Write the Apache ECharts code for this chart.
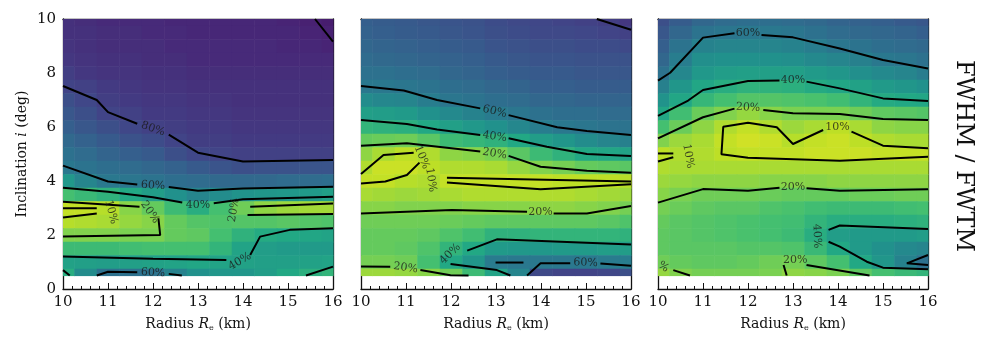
<!DOCTYPE html>
<html>
<head>
<meta charset="utf-8">
<script src="https://cdn.jsdelivr.net/npm/echarts@6/dist/echarts.min.js"></script>
<style>
  html, body { margin: 0; background: #fff; }
  #chart { width: 982px; height: 349px; }
</style>
</head>
<body>
<div id="chart"></div>
<script>
// grid of the colour field (km, deg)
const radius = [10, 10.5, 11, 11.5, 12, 12.5, 13, 13.5, 14, 14.5, 15, 15.5, 16]
const incl = [10, 9.5, 9, 8.5, 8, 7.5, 7, 6.5, 6, 5.5, 5, 4.5, 4, 3.5, 3, 2.5, 2, 1.5, 1, 0.5]

// error in percent, one row per inclination (top to bottom)
const fieldA = [
  [86, 87, 88, 88, 88, 89, 89, 89, 89, 89, 90, 91, 92],
  [86, 86, 87, 87, 88, 88, 89, 89, 89, 89, 89, 90, 91],
  [85, 86, 87, 87, 87, 88, 88, 88, 88, 88, 89, 89, 90],
  [84, 85, 86, 86, 87, 87, 88, 88, 88, 88, 88, 88, 88],
  [82, 84, 85, 85, 86, 86, 87, 87, 87, 87, 87, 87, 87],
  [80, 81, 83, 84, 85, 85, 86, 86, 86, 86, 86, 86, 86],
  [76, 79, 82, 83, 84, 84, 85, 85, 86, 86, 86, 86, 86],
  [73, 76, 80, 81, 83, 83, 84, 84, 85, 85, 85, 85, 85],
  [70, 73, 76, 79, 81, 82, 83, 83, 84, 84, 84, 84, 84],
  [66, 69, 72, 75, 77, 80, 82, 82, 83, 83, 83, 83, 83],
  [63, 65, 68, 70, 72, 76, 79, 80, 81, 81, 81, 81, 81],
  [60, 62, 64, 65, 67, 69, 72, 74, 76, 75, 75, 74, 74],
  [47, 55, 60, 61, 62, 64, 65, 66, 66, 66, 65, 65, 64],
  [30, 33, 36, 40, 45, 50, 55, 52, 49, 48, 47, 46, 44],
  [9, 9, 11, 18, 24, 32, 38, 30, 22, 17, 15, 14, 14],
  [11, 12, 13, 16, 18, 24, 27, 28, 27, 27, 26, 27, 28],
  [19, 19, 19, 20, 20, 24, 25, 30, 36, 39, 40, 41, 42],
  [32, 32, 32, 31, 30, 30, 30, 35, 42, 45, 46, 46, 46],
  [43, 44, 45, 44, 43, 42, 41, 42, 43, 44, 44, 43, 42],
  [38, 52, 63, 63, 62, 56, 50, 48, 48, 45, 40, 37, 35]
]
const fieldB = [
  [70, 71, 72, 73, 74, 75, 77, 78, 79, 80, 81, 82, 84],
  [69, 70, 71, 72, 73, 74, 76, 77, 78, 78, 79, 80, 81],
  [67, 68, 69, 70, 71, 72, 74, 75, 76, 76, 77, 77, 78],
  [65, 66, 67, 68, 69, 70, 72, 73, 74, 74, 75, 75, 75],
  [63, 63, 64, 65, 67, 68, 70, 71, 72, 72, 73, 73, 73],
  [60, 60, 61, 62, 64, 65, 67, 68, 70, 70, 71, 71, 71],
  [52, 54, 55, 58, 61, 62, 64, 65, 67, 67, 68, 68, 68],
  [44, 45, 46, 50, 53, 56, 59, 61, 63, 64, 64, 65, 65],
  [35, 36, 37, 40, 44, 47, 50, 54, 58, 60, 61, 62, 62],
  [24, 23, 22, 26, 32, 34, 36, 40, 45, 48, 52, 55, 57],
  [17, 13, 10, 12, 17, 18, 20, 26, 32, 36, 40, 41, 42],
  [12, 8, 8, 10, 12, 12, 13, 16, 19, 21, 24, 25, 26],
  [9, 9, 11, 12, 9, 9, 9, 9, 9, 10, 10, 10, 11],
  [13, 14, 15, 14, 13, 12, 12, 12, 12, 12, 13, 14, 15],
  [18, 18, 19, 19, 19, 18, 18, 18, 17, 17, 18, 19, 21],
  [22, 22, 22, 22, 23, 24, 25, 25, 25, 25, 25, 26, 28],
  [24, 24, 24, 25, 28, 31, 36, 36, 35, 35, 35, 35, 36],
  [24, 24, 25, 28, 35, 40, 46, 47, 47, 46, 46, 45, 45],
  [21, 21, 22, 30, 40, 48, 59, 60, 60, 60, 60, 59, 58],
  [15, 15, 16, 18, 22, 32, 42, 55, 78, 80, 80, 79, 76]
]
const fieldC = [
  [76, 71, 67, 65, 64, 64, 65, 66, 68, 69, 70, 72, 73],
  [73, 67, 62, 61, 60, 60, 61, 63, 65, 66, 67, 68, 70],
  [70, 62, 56, 55, 55, 55, 56, 58, 61, 62, 64, 65, 66],
  [67, 58, 51, 50, 50, 50, 51, 53, 55, 57, 60, 61, 63],
  [63, 54, 47, 45, 44, 44, 44, 46, 48, 51, 53, 55, 58],
  [57, 48, 41, 38, 36, 36, 37, 39, 41, 43, 46, 48, 50],
  [49, 41, 34, 30, 27, 27, 28, 29, 31, 35, 39, 40, 41],
  [41, 31, 23, 19, 16, 18, 20, 20, 20, 22, 25, 26, 27],
  [30, 23, 17, 12, 9, 12, 15, 13, 10, 13, 17, 18, 18],
  [19, 15, 13, 9, 7, 8, 11, 9, 8, 10, 12, 13, 13],
  [10, 12, 12, 10, 9, 9, 9, 8, 8, 8, 9, 9, 9],
  [12, 13, 13, 13, 13, 13, 13, 13, 13, 13, 13, 13, 13],
  [15, 16, 17, 17, 17, 18, 18, 18, 17, 17, 17, 17, 17],
  [18, 20, 22, 22, 22, 23, 24, 24, 24, 23, 23, 22, 22],
  [21, 23, 25, 26, 26, 28, 29, 31, 32, 32, 32, 31, 30],
  [24, 26, 27, 28, 29, 30, 31, 35, 38, 38, 38, 37, 36],
  [25, 26, 27, 28, 29, 30, 32, 38, 45, 46, 46, 46, 45],
  [25, 26, 26, 26, 27, 27, 28, 33, 40, 46, 50, 53, 55],
  [22, 24, 25, 25, 24, 22, 21, 25, 30, 40, 48, 56, 63],
  [16, 19, 21, 21, 21, 20, 17, 18, 20, 25, 30, 33, 35]
]

// contour polylines [radius, inclination], one array per drawn piece
const contoursA = [
  [[10, 7.52], [10.75, 7.0], [11, 6.55], [11.65, 6.12]],
  [[12.35, 5.72], [13, 5.05], [14, 4.72], [16, 4.78]],
  [[15.6, 10], [16, 9.16]],
  [[10, 4.57], [11, 3.98], [11.65, 3.87]],
  [[12.35, 3.78], [13, 3.64], [14, 3.72], [16, 3.79]],
  [[10, 3.75], [11, 3.6], [12, 3.4], [12.65, 3.2]],
  [[13.35, 3.18], [14, 3.32], [16, 3.42]],
  [[10, 2.99], [10.75, 2.99]],
  [[10, 2.65], [10.75, 2.8]],
  [[10, 3.23], [11.7, 3.05]],
  [[12.12, 2.62], [12.16, 2.0], [10, 1.94]],
  [[14.16, 3.05], [16, 3.17]],
  [[14.1, 2.74], [16, 2.78]],
  [[10, 1.2], [12, 1.12], [13.63, 1.07]],
  [[14.16, 1.26], [14.38, 1.94], [15.04, 2.19], [16, 2.25]],
  [[10.75, 0.5], [11, 0.64], [11.65, 0.62]],
  [[12.35, 0.56], [12.64, 0.5]],
  [[10, 0.7], [10.15, 0.5]],
  [[15.4, 0.5], [16, 0.83]]
]
const contoursB = [
  [[15.24, 10], [16, 9.6]],
  [[10, 7.52], [10.95, 7.35], [11.69, 7.0], [12.65, 6.69]],
  [[13.28, 6.44], [14.36, 5.99], [15.02, 5.85], [16, 5.7]],
  [[10, 6.26], [11.02, 6.11], [11.69, 5.91], [12.65, 5.7]],
  [[13.28, 5.58], [14.13, 5.27], [15.02, 5.0], [16, 4.93]],
  [[10, 5.31], [11.02, 5.4], [12.65, 5.09]],
  [[13.28, 4.93], [13.99, 4.53], [15.02, 4.38], [16, 4.31]],
  [[10, 4.26], [10.5, 4.96], [11.17, 5.05]],
  [[11.3, 4.68], [11.02, 4.22], [10.54, 3.98], [10, 3.91]],
  [[11.91, 4.12], [16, 3.98]],
  [[11.91, 3.94], [13.99, 3.69], [16, 3.88]],
  [[10, 2.8], [12.02, 2.93], [13.69, 2.86]],
  [[14.28, 2.8], [15.02, 2.8], [16, 3.07]],
  [[12.36, 1.42], [13.02, 1.84], [16, 1.65]],
  [[11.99, 0.93], [13.02, 0.7], [13.32, 0.5]],
  [[12.99, 0.98], [13.61, 0.98]],
  [[13.69, 0.5], [13.99, 0.95], [14.65, 0.95]],
  [[15.32, 0.94], [16, 0.86]],
  [[10, 0.83], [10.65, 0.82]],
  [[11.32, 0.7], [11.99, 0.51], [12.39, 0.5]]
]
const contoursC = [
  [[10, 7.72], [10.27, 8.01], [11, 9.31], [11.7, 9.47]],
  [[12.3, 9.41], [13, 9.32], [14.04, 8.91], [15, 8.48], [16, 8.17]],
  [[10, 6.41], [10.67, 6.98], [11, 7.37], [12, 7.7], [12.7, 7.72]],
  [[13.3, 7.68], [14.04, 7.43], [15, 7.06], [16, 6.96]],
  [[10, 5.58], [11, 6.36], [11.7, 6.68]],
  [[12.34, 6.63], [13, 6.51], [14.04, 6.48], [15, 6.3], [16, 6.26]],
  [[13.67, 5.89], [13.0, 5.37], [12.64, 5.99], [12.0, 6.16], [11.45, 6.01], [11.41, 4.99], [12, 4.86], [14.04, 4.75], [16, 4.9]],
  [[14.3, 5.83], [15, 5.31], [16, 5.21]],
  [[10, 5.02], [10.34, 5.02]],
  [[10, 4.72], [10.34, 4.88]],
  [[10, 3.2], [11, 3.7], [12, 3.64], [12.7, 3.75]],
  [[13.3, 3.73], [14.04, 3.64], [16, 3.69]],
  [[13.79, 2.19], [14.04, 2.35], [16, 2.22]],
  [[13.79, 1.75], [14.04, 1.57], [14.64, 1.01], [15, 0.79], [16, 0.73]],
  [[16, 1.26], [15.53, 0.95], [16, 0.89]],
  [[12.86, 0.5], [12.79, 0.89]],
  [[13.3, 0.89], [14.7, 0.5]],
  [[10.34, 0.7], [10.71, 0.5]]
]

// contour labels: radius, inclination, text, angle
const labelsA = [
  [12.0, 5.93, '80%', -19], [12.0, 3.83, '60%', -3], [13.0, 3.12, '40%', 0],
  [11.07, 2.85, '10%', -75], [11.93, 2.85, '20%', -55], [13.8, 2.93, '20%', 80],
  [13.93, 1.02, '40%', 30], [12.0, 0.6, '60%', -3]
]
const labelsB = [
  [12.97, 6.57, '60%', -14], [12.97, 5.64, '40%', -8], [12.97, 5.01, '20%', -10],
  [11.35, 4.88, '10%', -68], [11.55, 4.04, '10%', -82], [13.99, 2.84, '20%', 0],
  [11.98, 1.3, '40%', 45], [14.99, 0.97, '60%', -2], [10.99, 0.78, '20%', -8]
]
const labelsC = [
  [12.0, 9.47, '60%', 0], [13.0, 7.74, '40%', 0], [12.0, 6.72, '20%', -3],
  [13.99, 5.98, '10%', 0], [10.67, 4.92, '10%', -80], [13.0, 3.79, '20%', 0],
  [13.53, 1.96, '40%', -88], [13.05, 1.06, '20%', 0], [10.12, 0.82, '%', -35]
]

const viridisR = ['#fde725', '#bddf26', '#7ad151', '#44bf70', '#22a884', '#21918c',
  '#2a788e', '#355f8d', '#414487', '#482475', '#440154']

const panels = [
  { field: fieldA, contours: contoursA, labels: labelsA },
  { field: fieldB, contours: contoursB, labels: labelsB },
  { field: fieldC, contours: contoursC, labels: labelsC }
]
const gridLefts = [63, 361, 658]
const serif = 'DejaVu Serif'

const halfX = (radius[1] - radius[0]) / 2
const halfY = (incl[0] - incl[1]) / 2
const xMin = radius[0], xMax = radius[radius.length - 1]
const yMin = incl[incl.length - 1], yMax = incl[0]

function cellData(field) {
  const out = []
  field.forEach((row, r) => {
    row.forEach((v, c) => out.push([radius[c], incl[r], v]))
  })
  return out
}

function renderCell(params, api) {
  const x = api.value(0)
  const y = api.value(1)
  const p0 = api.coord([Math.max(x - halfX, xMin), Math.min(y + halfY, yMax)])
  const p1 = api.coord([Math.min(x + halfX, xMax), Math.max(y - halfY, yMin)])
  return {
    type: 'rect',
    shape: { x: p0[0], y: p0[1], width: p1[0] - p0[0] + 0.6, height: p1[1] - p0[1] + 0.6 },
    style: { fill: api.visual('color') }
  }
}

function xAxisFor(gi, pos) {
  const bottom = pos === 'bottom'
  return {
    type: 'value', gridIndex: gi, position: pos, min: 10, max: 16, interval: 1,
    name: bottom ? '{t|Radius }{i|R}{s|e}{t| (km)}' : '',
    nameLocation: 'middle', nameGap: 27,
    nameTextStyle: {
      rich: {
        t: { fontFamily: serif, fontSize: 14, color: '#111' },
        i: { fontFamily: serif, fontSize: 14, fontStyle: 'italic', color: '#111' },
        s: { fontFamily: serif, fontSize: 8, color: '#111', padding: [8, 0, 0, 0] }
      }
    },
    axisLine: { onZero: false, lineStyle: { color: '#111', width: 1.3 } },
    axisTick: { inside: true, length: 6, lineStyle: { color: '#111', width: 1 } },
    minorTick: { show: true, splitNumber: 5, length: 3, lineStyle: { color: '#111', width: 1 } },
    axisLabel: { show: bottom, color: '#111', fontFamily: serif, fontSize: 15, margin: 6 },
    splitLine: { show: false }
  }
}

function yAxisFor(gi, pos, withLabels) {
  return {
    type: 'value', gridIndex: gi, position: pos, min: 0, max: 10, interval: 2,
    name: withLabels ? '{t|Inclination }{i|i}{t| (deg)}' : '',
    nameLocation: 'middle', nameGap: 34, nameRotate: 90,
    nameTextStyle: {
      rich: {
        t: { fontFamily: serif, fontSize: 14, color: '#111' },
        i: { fontFamily: serif, fontSize: 14, fontStyle: 'italic', color: '#111' }
      }
    },
    axisLine: { onZero: false, lineStyle: { color: '#111', width: 1.3 } },
    axisTick: { inside: true, length: 6, lineStyle: { color: '#111', width: 1 } },
    minorTick: { show: true, splitNumber: 4, length: 3, lineStyle: { color: '#111', width: 1 } },
    axisLabel: { show: withLabels, color: '#111', fontFamily: serif, fontSize: 15, margin: 7 },
    splitLine: { show: false }
  }
}

const grids = []
const xAxes = []
const yAxes = []
const cellSeries = []
const lineSeries = []
const labelSeries = []

panels.forEach((p, i) => {
  grids.push({ left: gridLefts[i], top: 19, width: 270, height: 270 })
  xAxes.push(xAxisFor(i, 'bottom'), xAxisFor(i, 'top'))
  yAxes.push(yAxisFor(i, 'left', i === 0), yAxisFor(i, 'right', false))

  cellSeries.push({
    type: 'custom', xAxisIndex: 2 * i, yAxisIndex: 2 * i,
    renderItem: renderCell, data: cellData(p.field),
    encode: { x: 0, y: 1 }, silent: true, z: 1
  })

  p.contours.forEach(seg => {
    lineSeries.push({
      type: 'line', xAxisIndex: 2 * i, yAxisIndex: 2 * i,
      data: seg, showSymbol: false, silent: true, z: 3,
      lineStyle: { color: '#000', width: 2 }
    })
  })

  labelSeries.push({
    type: 'scatter', xAxisIndex: 2 * i, yAxisIndex: 2 * i,
    symbolSize: 0, silent: true, z: 5,
    data: p.labels.map(l => ({ value: [l[0], l[1]], name: l[2], label: { rotate: l[3] } })),
    label: {
      show: true, position: 'inside', formatter: '{b}',
      fontFamily: serif, fontSize: 11, color: '#1a1a1a'
    }
  })
})

const chart = echarts.init(document.getElementById('chart'))
chart.setOption({
  animation: false,
  backgroundColor: '#fff',
  grid: grids,
  xAxis: xAxes,
  yAxis: yAxes,
  visualMap: {
    type: 'continuous', show: false, min: 0, max: 100, dimension: 2,
    seriesIndex: [0, 1, 2],
    inRange: { color: viridisR }
  },
  graphic: [{
    type: 'text', x: 963, y: 156, rotation: -Math.PI / 2,
    style: {
      text: 'FWHM / FWTM', fontFamily: serif, fontSize: 24, fill: '#111',
      align: 'center', verticalAlign: 'middle'
    }
  }],
  series: [...cellSeries, ...lineSeries, ...labelSeries]
})
</script>
</body>
</html>
